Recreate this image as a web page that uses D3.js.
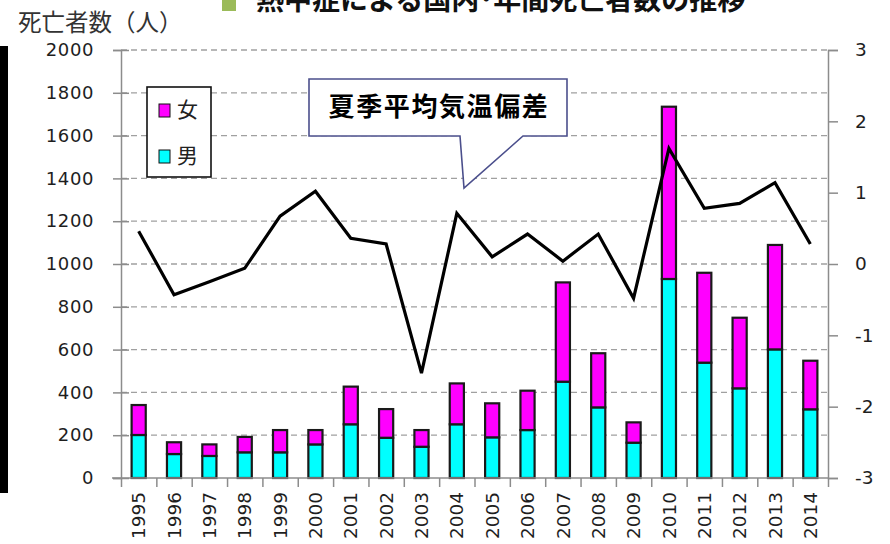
<!DOCTYPE html>
<html>
<head>
<meta charset="utf-8">
<script src="https://cdn.jsdelivr.net/npm/d3@7"></script>
<style>
  body { margin: 0; background: #fff; }
  text { font-family: "DejaVu Sans", sans-serif; }
  .jp { font-family: "Noto Sans CJK JP", sans-serif; }
</style>
</head>
<body>
<div id="chart"></div>
<script>
// data
var years = ["1995","1996","1997","1998","1999","2000","2001","2002","2003","2004",
             "2005","2006","2007","2008","2009","2010","2011","2012","2013","2014"];
var male   = [201,112,103,120,120,157,251,188,146,251,190,224,450,330,165,930,539,419,601,321];
var female = [140, 55, 54, 72,104, 67,176,134, 78,191,159,184,464,253, 95,805,420,330,488,227];
var tempDev = [0.46,-0.43,-0.25,-0.06,0.67,1.02,0.36,0.28,-1.53,0.71,
               0.10,0.42,0.04,0.42,-0.48,1.62,0.78,0.85,1.14,0.28];
var leftTicks = d3.range(0, 2001, 200);
var rightTicks = [-3,-2,-1,0,1,2,3];

var W = 890, H = 544;
var plot = {left: 121, right: 828, top: 50, bottom: 478};

var svg = d3.select("#chart").append("svg")
  .attr("width", W).attr("height", H);

var x = d3.scaleBand().domain(years)
  .range([plot.left, plot.right])
  .paddingInner(0.6).paddingOuter(0.3);
var xEdge = d3.scaleLinear().domain([0, years.length]).range([plot.left, plot.right]);
var y = d3.scaleLinear().domain([0, 2000]).range([plot.bottom, plot.top]);
var yR = d3.scaleLinear().domain([-3, 3]).range([plot.bottom, plot.top]);

// black strip on the left edge
svg.append("rect").attr("x", 0).attr("y", 46).attr("width", 8).attr("height", 447).attr("fill", "#000");

// title (cut off at the top, as in the source)
svg.append("rect").attr("x", 222).attr("y", -4).attr("width", 14).attr("height", 15).attr("fill", "#9bbb59");
svg.append("text").attr("class", "jp")
  .attr("x", 256).attr("y", 10)
  .attr("font-size", 28).attr("font-weight", "bold").attr("fill", "#111")
  .text("熱中症による国内･年間死亡者数の推移");

svg.append("text").attr("class", "jp")
  .attr("x", 18).attr("y", 31)
  .attr("font-size", 23.5).attr("fill", "#333")
  .text("死亡者数（人）");

// gridlines
svg.append("g").selectAll("line")
  .data(leftTicks.filter(function(d) { return d > 0; }))
  .enter().append("line")
  .attr("x1", plot.left).attr("x2", plot.right)
  .attr("y1", function(d) { return y(d); })
  .attr("y2", function(d) { return y(d); })
  .attr("stroke", "#a0a0a0").attr("stroke-width", 1.3)
  .attr("stroke-dasharray", "6,4");

// stacked bars
var barG = svg.append("g");
barG.selectAll(".male").data(years).enter().append("rect")
  .attr("x", function(d) { return x(d); })
  .attr("width", x.bandwidth())
  .attr("y", function(d, i) { return y(male[i]); })
  .attr("height", function(d, i) { return plot.bottom - y(male[i]); })
  .attr("fill", "#00ffff").attr("stroke", "#1a1a1a").attr("stroke-width", 2.2);
barG.selectAll(".female").data(years).enter().append("rect")
  .attr("x", function(d) { return x(d); })
  .attr("width", x.bandwidth())
  .attr("y", function(d, i) { return y(male[i] + female[i]); })
  .attr("height", function(d, i) { return y(male[i]) - y(male[i] + female[i]); })
  .attr("fill", "#ff00ff").attr("stroke", "#1a1a1a").attr("stroke-width", 2.2);

// temperature line
var line = d3.line()
  .x(function(d, i) { return x(years[i]) + x.bandwidth() / 2; })
  .y(function(d) { return yR(d); });
svg.append("path").datum(tempDev)
  .attr("d", line)
  .attr("fill", "none").attr("stroke", "#000").attr("stroke-width", 3.2);

// axes
var axisColor = "#8c8c8c";
var labelColor = "#1e1e1e";
var fmt = function(d) { return String(d); };   // plain hyphen minus like the source

var gL = svg.append("g").attr("transform", "translate(" + plot.left + ",0)")
  .call(d3.axisLeft(y).tickValues(leftTicks).tickFormat(fmt).tickSize(8).tickPadding(19));
gL.selectAll(".tick line").attr("x1", 8);
gL.selectAll(".tick text").attr("font-size", 18).attr("letter-spacing", 0.6).attr("fill", labelColor)
  .attr("font-family", "DejaVu Sans");

var gR = svg.append("g").attr("transform", "translate(" + plot.right + ",0)")
  .call(d3.axisRight(yR).tickValues(rightTicks).tickFormat(fmt).tickSize(10).tickPadding(17));
gR.selectAll(".tick text").attr("font-size", 18.5).attr("fill", labelColor)
  .attr("font-family", "DejaVu Sans");

var gB = svg.append("g").attr("transform", "translate(0," + plot.bottom + ")")
  .call(d3.axisBottom(xEdge).tickValues(d3.range(0, years.length + 1)).tickSize(9).tickFormat(""));
gB.select(".domain").attr("d", "M" + (plot.left - 9) + ",0H" + plot.right);

var gX = svg.append("g").attr("transform", "translate(0," + plot.bottom + ")")
  .call(d3.axisBottom(x).tickSize(0));
gX.select(".domain").remove();
gX.selectAll(".tick text")
  .attr("transform", "rotate(-90)")
  .attr("x", -14).attr("y", 0).attr("dy", "0.36em")
  .attr("text-anchor", "end")
  .attr("font-size", 18.5).attr("fill", labelColor)
  .attr("font-family", "DejaVu Sans");

[gL, gR, gB].forEach(function(g) {
  g.selectAll(".domain, .tick line").attr("stroke", axisColor).attr("stroke-width", 1.5);
});

// callout
svg.append("path")
  .attr("d", "M309,79H567V136H523L464,188L460,136H309Z")
  .attr("fill", "#fff").attr("stroke", "#4b4f8c").attr("stroke-width", 1.6);
svg.append("text").attr("class", "jp")
  .attr("x", 439).attr("y", 116)
  .attr("text-anchor", "middle")
  .attr("font-size", 26).attr("font-weight", "bold").attr("letter-spacing", 1.6)
  .attr("fill", "#000")
  .text("夏季平均気温偏差");

// legend
var legend = svg.append("g");
legend.append("rect").attr("x", 147).attr("y", 87).attr("width", 64).attr("height", 90)
  .attr("fill", "#fff").attr("stroke", "#111").attr("stroke-width", 1.6);
var legendItems = [{label: "女", color: "#ff00ff"}, {label: "男", color: "#00ffff"}];
legendItems.forEach(function(d, i) {
  legend.append("rect").attr("x", 159).attr("y", 104 + i * 46).attr("width", 11).attr("height", 13)
    .attr("fill", d.color).attr("stroke", "#111").attr("stroke-width", 1);
  legend.append("text").attr("class", "jp")
    .attr("x", 177).attr("y", 117 + i * 46)
    .attr("font-size", 21).attr("fill", "#222")
    .text(d.label);
});
</script>
</body>
</html>
